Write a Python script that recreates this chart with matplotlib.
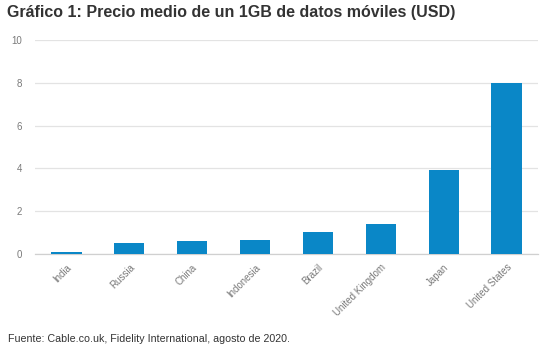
import matplotlib
matplotlib.use("Agg")
import matplotlib.pyplot as plt

countries = ["India", "Russia", "China", "Indonesia", "Brazil", "United Kingdom", "Japan", "United States"]
prices = [0.09, 0.52, 0.60, 0.67, 1.01, 1.39, 3.91, 8.00]
yticks = [0, 2, 4, 6, 8, 10]

plt.rcParams['font.family'] = ['Liberation Sans', 'DejaVu Sans']

W, H = 543, 351
fig = plt.figure(figsize=(W/100, H/100), dpi=100)
ax = fig.add_axes([35/W, 97/H, (538-35)/W, 214/H])

x = range(len(countries))
ax.bar(x, prices, width=0.48, color="#0a87c7", zorder=3)
ax.set_xlim(-0.5, len(countries)-0.5)
ax.set_ylim(0, 10)
ax.set_yticks(yticks)
ax.set_yticklabels([str(v) for v in yticks], color="#7a7a7a", fontsize=7)
ax.set_xticks(list(x))
ax.set_xticklabels(countries, rotation=45, ha="right", rotation_mode="anchor",
                   color="#7a7a7a", fontsize=7)
ax.tick_params(axis="both", length=0)
ax.tick_params(axis="y", pad=9.5)
ax.tick_params(axis="x", pad=6)
ax.grid(axis="y", color="#e3e3e3", linewidth=0.9, zorder=0)
for s in ["top", "right", "left"]:
    ax.spines[s].set_visible(False)
ax.spines["bottom"].set_color("#d0d0d0")
ax.spines["bottom"].set_linewidth(0.9)

fig.text(7/W, 1-12.5/H, "Gráfico 1: Precio medio de un 1GB de datos móviles (USD)",
         fontsize=11.5, fontweight="bold", color="#333333", va="center", ha="left")
fig.text(8/W, 1-339/H, "Fuente: Cable.co.uk, Fidelity International, agosto de 2020.",
         fontsize=7.7, color="#333333", va="center", ha="left")

fig.savefig("out.png", dpi=100)
